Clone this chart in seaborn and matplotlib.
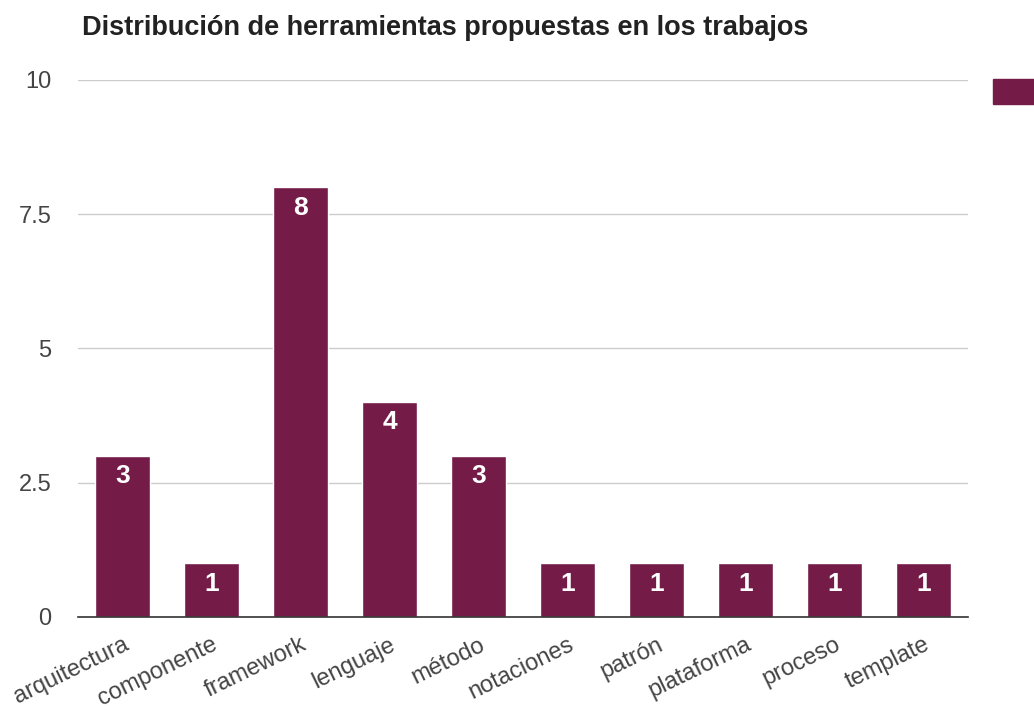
import pandas as pd
import seaborn as sns
import matplotlib.pyplot as plt
from matplotlib.patches import Rectangle

# data
categorias = ['arquitectura', 'componente', 'framework', 'lenguaje', 'método',
              'notaciones', 'patrón', 'plataforma', 'proceso', 'template']
cantidades = [3, 1, 8, 4, 3, 1, 1, 1, 1, 1]
y_ticks = [0, 2.5, 5, 7.5, 10]
y_tick_labels = ['0', '2.5', '5', '7.5', '10']

color_barra = '#741b47'

df = pd.DataFrame({'herramienta': categorias, 'n': cantidades})

sns.set_style('white')
plt.rcParams['font.family'] = ['Liberation Sans', 'DejaVu Sans']

fig = plt.figure(figsize=(10.34, 7.17), dpi=100)
ax = fig.add_axes([0.0754, 0.1395, 0.861, 0.749])

sns.barplot(data=df, x='herramienta', y='n', color=color_barra, saturation=1,
            width=0.62, ax=ax)

ax.set_ylim(0, 10)
ax.set_xlim(-0.5, len(categorias) - 0.5)
ax.set_yticks(y_ticks)
ax.set_yticklabels(y_tick_labels)
ax.yaxis.grid(True, color='#cccccc', linewidth=1)
ax.set_axisbelow(True)
for s in ['top', 'right', 'left']:
    ax.spines[s].set_visible(False)
ax.spines['bottom'].set_color('#333333')
ax.spines['bottom'].set_linewidth(1.2)
ax.tick_params(axis='both', length=0, labelsize=17, colors='#444444')
ax.tick_params(axis='y', pad=19)
ax.tick_params(axis='x', pad=12)
ax.set_xlabel('')
ax.set_ylabel('')
plt.setp(ax.get_xticklabels(), rotation=26, ha='right', rotation_mode='anchor')

# value labels inside bars
for i, v in enumerate(cantidades):
    ax.annotate(str(v), xy=(i, v), xytext=(0, -6), textcoords='offset points',
                ha='center', va='top', color='white', fontsize=19, fontweight='bold')

fig.text(0.079, 1 - 35 / 717, 'Distribución de herramientas propuestas en los trabajos',
         fontsize=19.5, fontweight='bold', color='#222222', va='baseline')

# legend swatch (cut off at the right edge)
fig.patches.append(Rectangle((993 / 1034, 1 - 104 / 717), 45 / 1034, 25 / 717,
                             transform=fig.transFigure, color=color_barra))

plt.savefig('out.png', dpi=100)
plt.close()
